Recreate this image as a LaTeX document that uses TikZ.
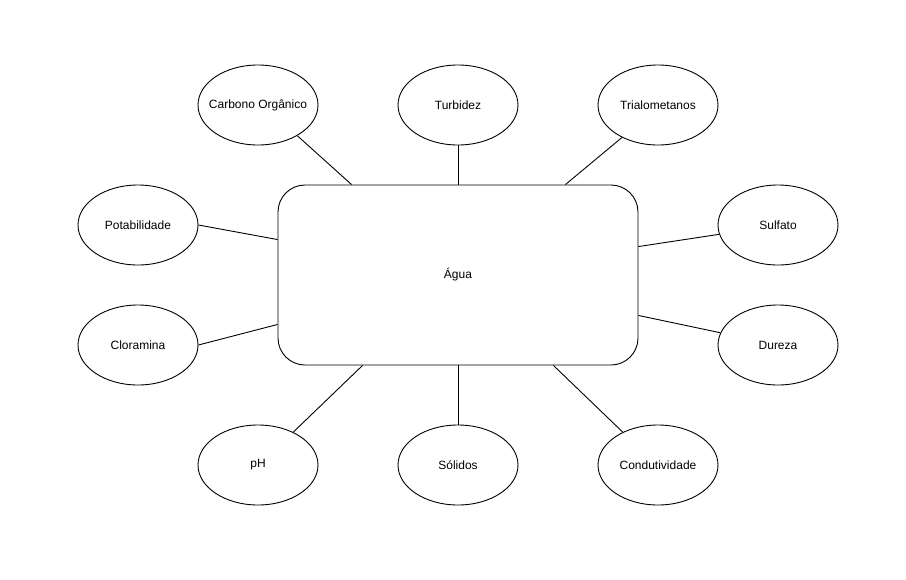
\documentclass[tikz,border=0pt]{standalone}
\usepackage{fontspec}
\setmainfont{Liberation Sans}
\tikzset{
  elip/.style={draw, ellipse, minimum width=120pt, minimum height=80pt, inner sep=0pt, font=\fontsize{12}{14}\selectfont},
  caixa/.style={draw, rectangle, rounded corners=27pt, minimum width=360pt, minimum height=180pt, inner sep=0pt, font=\fontsize{12}{14}\selectfont}
}
\usetikzlibrary{shapes.geometric}

\begin{document}
\begin{tikzpicture}[x=1pt,y=-1pt,line width=0.9pt]
\useasboundingbox (0,0) rectangle (906,579);
\node[caixa] (a) at (458,275) {Água};
\node[elip] (aA) at (258,105) {\makebox[0pt]{Carbono Orgânico}};
\node[elip] (aB) at (458,105) {Turbidez};
\node[elip] (aC) at (658,105) {Trialometanos};
\node[elip] (aD) at (138,225) {Potabilidade};
\node[elip] (aE) at (778,225) {Sulfato};
\node[elip] (aF) at (138,345) {Cloramina};
\node[elip] (aG) at (778,345) {Dureza};
\node[elip] (aH) at (258,465) {pH};
\node[elip] (aI) at (458,465) {Sólidos};
\node[elip] (aJ) at (658,465) {Condutividade};
\draw (aA.322) -- ([xshift=74pt]a.north west);
\draw (aB.south) -- (a.north);
\draw (aC.222) -- ([xshift=-73pt]a.north east);
\draw (aD.east) -- ([yshift=-55pt]a.north west);
\draw (aE.189) -- ([yshift=-62pt]a.north east);
\draw (aF.east) -- ([yshift=41pt]a.south west);
\draw (aG.168) -- ([yshift=50pt]a.south east);
\draw (aH.43) -- ([xshift=85pt]a.south west);
\draw (aI.north) -- (a.south);
\draw (aJ.137) -- ([xshift=-85pt]a.south east);
\end{tikzpicture}
\end{document}
